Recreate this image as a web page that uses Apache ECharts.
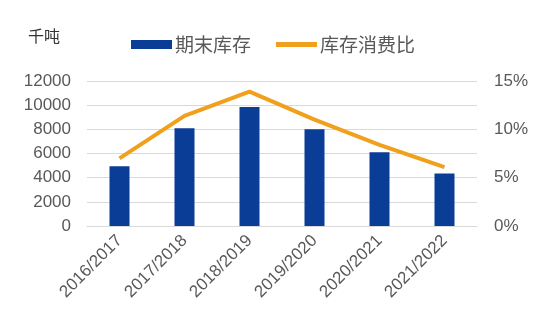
<!DOCTYPE html>
<html><head><meta charset="utf-8">
<script src="https://cdn.jsdelivr.net/npm/echarts@6/dist/echarts.min.js"></script>
<style>html,body{margin:0;padding:0;background:#fff}#c{width:550px;height:332px}</style>
</head><body><div id="c"></div>
<script>
const categories = ['2016/2017','2017/2018','2018/2019','2019/2020','2020/2021','2021/2022'];
const stock = [4950, 8100, 9850, 8000, 6100, 4350];
const ratio = [7.0, 11.4, 13.9, 11.0, 8.4, 6.1];
const leftTicks = [0, 2000, 4000, 6000, 8000, 10000, 12000];
const rightTicks = [0, 5, 10, 15];

const chart = echarts.init(document.getElementById('c'), null, {renderer:'canvas'});
const numFont = 'Liberation Sans, Arial, sans-serif';
const cjkFont = 'Noto Sans CJK SC, sans-serif';
chart.setOption({
  animation: false,
  grid: {left: 87, right: 73, top: 81, bottom: 106},
  legend: {
    top: 30, left: 126, itemGap: 25, itemWidth: 41, itemHeight: 9,
    textStyle: {fontFamily: cjkFont, fontSize: 19, color: '#595959', padding: [0, 0, 0, -2]},
    data: [
      {name: '期末库存', icon: 'rect'},
      {name: '库存消费比', icon: 'path://M0,0 L40,0 L40,5 L0,5 Z'}
    ]
  },
  graphic: [{type: 'text', left: 28, top: 28, style: {text: '千吨', font: '16px ' + cjkFont, fill: '#333'}}],
  xAxis: {
    type: 'category', data: categories,
    axisLine: {show: true, lineStyle: {color: '#d9d9d9'}}, axisTick: {show: false},
    axisLabel: {rotate: 45, fontFamily: numFont, fontSize: 17, color: '#595959', margin: 12, interval: 0}
  },
  yAxis: [
    {type: 'value', min: leftTicks[0], max: leftTicks[leftTicks.length-1], interval: 2000,
     axisLine: {show: false}, axisTick: {show: false},
     splitLine: {lineStyle: {color: '#d9d9d9', width: 1}},
     axisLabel: {fontFamily: numFont, fontSize: 17, color: '#595959', margin: 16, formatter: v => String(v)}},
    {type: 'value', min: rightTicks[0], max: rightTicks[rightTicks.length-1], interval: 5,
     axisLine: {show: false}, axisTick: {show: false}, splitLine: {show: false},
     axisLabel: {fontFamily: numFont, fontSize: 17, color: '#595959', margin: 17, formatter: v => v + '%'}}
  ],
  series: [
    {name: '期末库存', type: 'bar', data: stock, barWidth: 20, itemStyle: {color: '#0a3d96'}},
    {name: '库存消费比', type: 'line', yAxisIndex: 1, data: ratio, symbol: 'none',
     lineStyle: {color: '#f0a01c', width: 4}, itemStyle: {color: '#f0a01c'}}
  ]
});
</script></body></html>
